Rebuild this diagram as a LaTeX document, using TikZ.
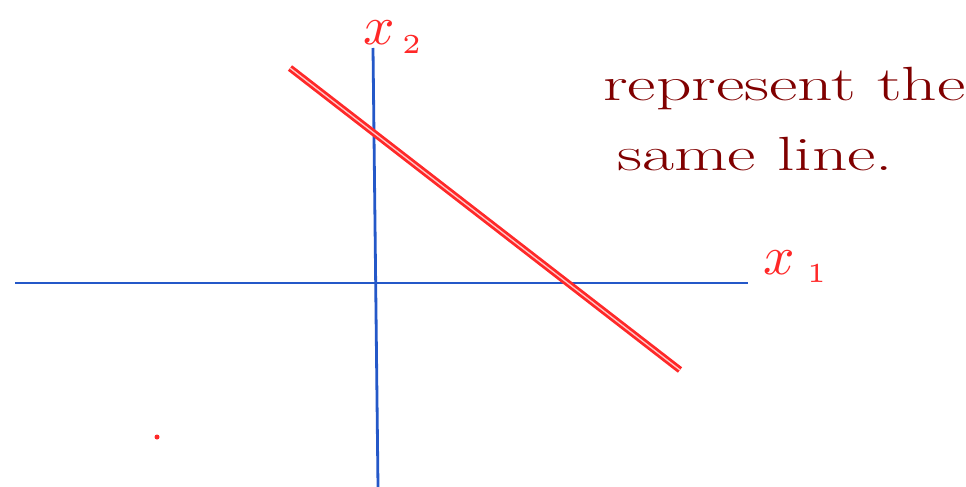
\documentclass[tikz,border=0pt]{standalone}
\usepackage{fontspec}
\definecolor{axisblue}{HTML}{2458C8}
\definecolor{penred}{HTML}{FF2828}
\definecolor{inkred}{HTML}{800000}
\begin{document}
\begin{tikzpicture}[x=1pt,y=-1pt,
  axis/.style={draw=axisblue,line width=2.8pt},
  redline/.style={draw=penred,double=white!75!penred,double distance=1.3pt,line width=2.8pt},
  lbl/.style={text=penred,scale=5.5,inner sep=0pt,anchor=base west},
  note/.style={text=inkred,font=\fontsize{48}{58}\selectfont,anchor=base west,inner sep=0pt,xscale=1.45}]
\useasboundingbox (0,0) rectangle (966,487);
\coordinate (hl) at (15,283);
\coordinate (hr) at (748,283);
\coordinate (vt) at (373,48);
\coordinate (vb) at (378,487);
\draw[axis] (hl) -- (hr);
\draw[axis] (vt) -- (vb);
\coordinate (la) at (290,68);
\coordinate (lb) at (680,370);
\draw[redline] (la) -- (lb);
\fill[penred] (157,437) circle (2.5pt);
\node[lbl] (x2) at (362,45) {$x_{\,\scriptscriptstyle 2}$};
\node[lbl] (x1) at (762,274) {$x_{\;\scriptscriptstyle 1}$};
\node[note] (txt1) at (603,100) {represent the};
\node[note] (txt2) at (617,170) {same line.};
\end{tikzpicture}
\end{document}
